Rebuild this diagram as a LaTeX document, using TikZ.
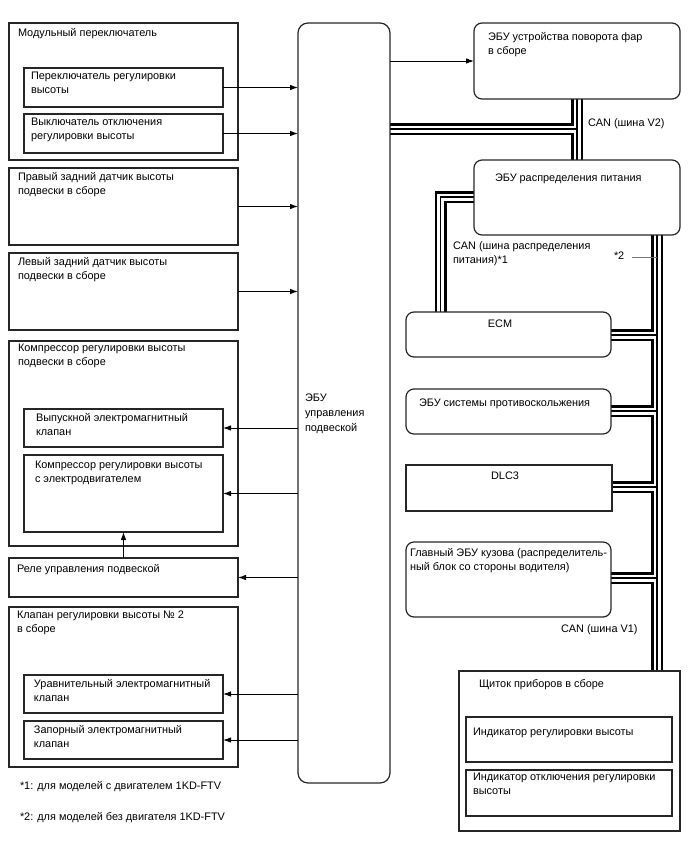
\documentclass[tikz,border=0pt]{standalone}
\usepackage{fontspec}
\setmainfont{Liberation Sans}
\usetikzlibrary{arrows.meta}
\pgfdeclarelayer{buslayer}
\pgfsetlayers{buslayer,main}
\newcommand{\mystrut}{\rule{0pt}{9pt}}
\tikzset{
  box/.style={draw=black!85, line width=1.2pt, anchor=north west, inner sep=0pt, outer sep=0pt},
  rbox/.style={box, rounded corners=8pt},
  lbl/.style={anchor=north west, align=left, inner sep=0pt, outer sep=0pt,
    font=\fontsize{10.9}{14}\selectfont, execute at begin node=\mystrut},
  clbl/.style={lbl, anchor=north},
  arr/.style={-{Latex[length=8pt,width=5.5pt]}, line width=0.9pt, black},
  gline/.style={draw=black!55, line width=1pt},
}
\begin{document}
\begin{tikzpicture}[x=1pt,y=-1pt]
\useasboundingbox (0,0) rectangle (688,852);
% coordinates for bus routing
\coordinate (v2) at (577,129);
\coordinate (b1) at (440.5,197);
\coordinate (cx) at (657,0);
\coordinate (t1) at (657,335);
\coordinate (t2) at (657,411);
\coordinate (t3) at (657,487);
\coordinate (t4) at (657,578);
\coordinate (g2) at (632,257);

% left boxes
\node[box, minimum width=229, minimum height=137] (mod) at (9,23) {};
\node[box, minimum width=199, minimum height=39] (sw1) at (24,68) {};
\node[box, minimum width=199, minimum height=39] (sw2) at (24,114) {};
\node[box, minimum width=229, minimum height=77] (rrs) at (9,168) {};
\node[box, minimum width=229, minimum height=77] (lrs) at (9,253) {};
\node[box, minimum width=229, minimum height=205] (comp) at (9,341) {};
\node[box, minimum width=199, minimum height=38] (exv) at (24,409) {};
\node[box, minimum width=199, minimum height=77] (mot) at (24,455) {};
\node[box, minimum width=229, minimum height=39] (rel) at (9,558) {};
\node[box, minimum width=229, minimum height=160] (val) at (9,607) {};
\node[box, minimum width=199, minimum height=38] (eqv) at (24,675) {};
\node[box, minimum width=199, minimum height=38] (shv) at (24,721) {};
% central
\node[box, rounded corners=10pt, minimum width=92, minimum height=760] (cecu) at (298,23) {};
% right
\node[rbox, minimum width=206, minimum height=76] (hl) at (474,23) {};
\node[rbox, minimum width=206, minimum height=75] (epd) at (474,160) {};
\node[rbox, minimum width=205, minimum height=45] (ecm) at (406,312) {};
\node[rbox, minimum width=205, minimum height=45] (abs) at (406,389) {};
\node[box, minimum width=206, minimum height=46] (dlc) at (406,465) {};
\node[rbox, minimum width=205, minimum height=75] (mbe) at (406,542) {};
\node[box, minimum width=221, minimum height=160] (dash) at (459,671) {};
\node[box, minimum width=206, minimum height=45] (ind1) at (466,717) {};
\node[box, minimum width=206, minimum height=46] (ind2) at (466,770) {};

% CAN buses (layered: outer black, white gap, center wire), behind the boxes
\begin{pgfonlayer}{buslayer}
\foreach \lw/\col in {12/black, 7/white, 1.5/black} {
  \draw[line width=\lw pt, draw=\col]
    (cecu.east |- v2) -- (v2)
    (hl.south -| v2) -- (epd.north -| v2)
    (epd.west |- b1) -- (b1) -- (ecm.north -| b1)
    (epd.south -| cx) -- (dash.north -| cx)
    (ecm.east |- t1) -- (t1)
    (abs.east |- t2) -- (t2)
    (dlc.east |- t3) -- (t3)
    (mbe.east |- t4) -- (t4);
}
\end{pgfonlayer}
\draw[gline] (g2) -- (g2 -| cx);

% arrows
\draw[arr] (sw1.east) -- (sw1.east -| cecu.west);
\draw[arr] (sw2.east) -- (sw2.east -| cecu.west);
\draw[arr] (rrs.east) -- (rrs.east -| cecu.west);
\draw[arr] (lrs.east) -- (lrs.east -| cecu.west);
\draw[arr] (cecu.west |- exv.east) -- (exv.east);
\draw[arr] (cecu.west |- mot.east) -- (mot.east);
\draw[arr] (cecu.west |- rel.east) -- (rel.east);
\draw[arr] (cecu.west |- eqv.east) -- (eqv.east);
\draw[arr] (cecu.west |- shv.east) -- (shv.east);
\draw[arr] (rel.north) -- (mot.south);
\draw[arr] (cecu.east |- hl.west) -- (hl.west);

% texts
\node[lbl] (tmod) at (18,27) {Модульный переключатель};
\node[lbl] (tsw1) at (31,72) {Переключатель регулировки\\высоты};
\node[lbl] (tsw2) at (31,118) {Выключатель отключения\\регулировки высоты};
\node[lbl] (trrs) at (18,172) {Правый задний датчик высоты\\подвески в сборе};
\node[lbl] (tlrs) at (18,257) {Левый задний датчик высоты\\подвески в сборе};
\node[lbl] (tcomp) at (18,344) {Компрессор регулировки высоты\\подвески в сборе};
\node[lbl] (texv) at (36,413) {Выпускной электромагнитный\\клапан};
\node[lbl] (tmot) at (35,461) {Компрессор регулировки высоты\\с электродвигателем};
\node[lbl] (trel) at (17,563) {Реле управления подвеской};
\node[lbl] (tval) at (17,611) {Клапан регулировки высоты № 2\\в сборе};
\node[lbl] (teqv) at (34,679) {Уравнительный электромагнитный\\клапан};
\node[lbl] (tshv) at (34,725) {Запорный электромагнитный\\клапан};
\node[lbl] (f1) at (20,780) {*1: для моделей с двигателем 1KD-FTV};
\node[lbl] (f2) at (20,811) {*2: для моделей без двигателя 1KD-FTV};
\node[lbl, font=\fontsize{10.9}{15}\selectfont] (tcecu) at (305,394) {ЭБУ\\управления\\подвеской};
\node[lbl] (thl) at (488,32) {ЭБУ устройства поворота фар\\в сборе};
\node[lbl] (can2) at (588,117) {CAN (шина V2)};
\node[lbl] (tepd) at (495,172) {ЭБУ распределения питания};
\node[lbl] (canp) at (453,242) {CAN (шина распределения\\питания)*1};
\node[lbl] (s2) at (614,250) {*2};
\node[clbl] (tecm) at (500,318) {ECM};
\node[lbl] (tabs) at (419,397) {ЭБУ системы противоскольжения};
\node[clbl] (tdlc) at (505,470) {DLC3};
\node[lbl] (tmbe) at (410,548) {Главный ЭБУ кузова (распределитель-\\ный блок со стороны водителя)};
\node[lbl] (can1) at (561,623) {CAN (шина V1)};
\node[lbl] (tdash) at (479,678) {Щиток приборов в сборе};
\node[lbl] (ti1) at (473,726) {Индикатор регулировки высоты};
\node[lbl] (ti2) at (473,773) {Индикатор отключения регулировки\\высоты};
\end{tikzpicture}
\end{document}
